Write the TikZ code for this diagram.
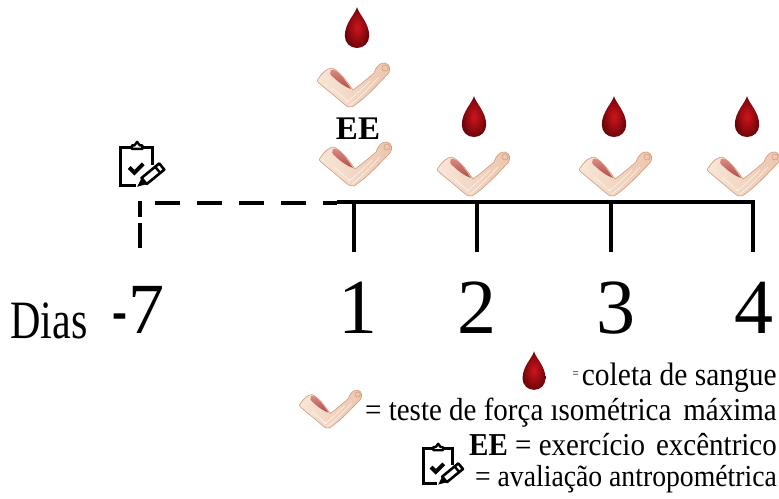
\documentclass[tikz,border=0pt]{standalone}
\usepackage{fontspec}
\setmainfont{Liberation Serif}
\definecolor{dropin}{HTML}{D0141C}
\definecolor{dropout}{HTML}{6E050A}
\definecolor{skinA}{HTML}{F8E6D8}
\definecolor{skinB}{HTML}{ECC5AC}
\definecolor{skinEdge}{HTML}{D29A7E}
\definecolor{musA}{HTML}{DC8F86}
\definecolor{musB}{HTML}{B04C48}
\tikzset{
  blooddrop/.pic={
    \shade[inner color=dropin, outer color=dropout]
      (0,-24) .. controls (2,-16) and (14,-6) .. (14,9)
      .. controls (14,17) and (8,23) .. (0,23)
      .. controls (-8,23) and (-14,17) .. (-14,9)
      .. controls (-14,-6) and (-2,-16) .. cycle;
  },
  flexarm/.pic={
    % skin outline of the flexed arm
    \shade[left color=skinA, right color=skinB, draw=skinEdge, line width=0.6pt]
      (-36,-7) .. controls (-32,-13) and (-27,-18) .. (-22,-18)
      .. controls (-15,-15) and (-7,-5) .. (-1,4)
      .. controls (6,-1) and (13,-7) .. (20,-13)
      .. controls (22,-19) and (26,-24) .. (31,-23)
      .. controls (36,-22) and (37,-16) .. (34,-12)
      .. controls (24,-2) and (12,12) .. (-2,21)
      .. controls (-5,22) and (-8,20) .. (-10,18)
      .. controls (-18,11) and (-28,3) .. (-35,-3)
      .. controls (-37,-4) and (-37,-6) .. cycle;
    % biceps
    \shade[top color=musA, bottom color=musB]
      (-23,-16) .. controls (-17,-18) and (-9,-6) .. (-3,3)
      .. controls (-9,1) and (-16,-4) .. (-21,-9)
      .. controls (-24,-11) and (-25,-14) .. cycle;
    % tendons and elbow shading
    \draw[white, line width=0.5pt, opacity=0.85]
      (-7,16) .. controls (-2,12) and (6,5) .. (16,-5)
      (-4,19) .. controls (4,13) and (12,5) .. (24,-8)
      (-22,2) .. controls (-16,7) and (-11,11) .. (-6,16);
    \draw[skinEdge, line width=0.5pt] (31,-18) circle (3);
  },
  clipboardicon/.pic={
    \draw[line width=3pt, line join=miter, line cap=butt]
      (-7,-18) -- (-20,-18) -- (-20,25) -- (-2,25);
    \draw[line width=3pt, line join=miter, line cap=butt]
      (5,-18) -- (17,-18) -- (17,2);
    \draw[line width=2.4pt, line join=round]
      (-7,-16) -- (-7,-20) -- (-4,-20) -- (-1,-24) -- (2,-20) -- (5,-20) -- (5,-16) -- cycle;
    \draw[line width=4pt, line cap=butt, line join=miter]
      (-10,5) -- (-4,11) -- (6,1);
    % pencil
    \draw[line width=2.6pt, line join=round, fill=white]
      (29.9,7.5) -- (24.1,0.5) -- (4,17) -- (9.8,24) -- cycle;
    \draw[line width=2.4pt] (25.3,11.3) -- (19.5,4.3);
    \fill (4,17) -- (9.8,24) -- (-1,27) -- cycle;
  }
}
\newcommand{\tallerline}[1]{\scalebox{1}[1.1]{#1}}
\begin{document}
\begin{tikzpicture}[x=1pt, y=-1pt,
  axis/.style={line width=4pt, line cap=butt, line join=miter},
  dashaxis/.style={axis, dash pattern=on 25pt off 17pt},
  daynum/.style={font=\fontsize{78}{80}\selectfont, anchor=base, inner sep=0pt},
  legendtxt/.style={font=\fontsize{29}{32}\selectfont, anchor=base east, inner sep=0pt}]
\useasboundingbox (0,0) rectangle (779,498);

% timeline
\coordinate (pre) at (140,248);
\coordinate (preTop) at (140,201);
\coordinate (dashStart) at (155,203);
\coordinate (solidStart) at (337,202);
\coordinate (day1) at (354,202);
\coordinate (day2) at (477,202);
\coordinate (day3) at (611,202);
\coordinate (day4) at (753,202);
\coordinate (tick1) at (354,252);
\coordinate (tick2) at (477,252);
\coordinate (tick3) at (611,252);
\coordinate (tick4) at (753,252);

\draw[axis] (preTop) -- (140,217);
\draw[axis] (140,223) -- (pre);
\draw[dashaxis] (dashStart) -- (solidStart |- dashStart);
\draw[axis] (solidStart) -- (day4) -- (tick4);
\draw[axis] (day1) -- (tick1);
\draw[axis] (day2) -- (tick2);
\draw[axis] (day3) -- (tick3);

% day labels
\node[anchor=base west, inner sep=0pt, font=\fontsize{54}{56}\selectfont] (dias) at (10,338) {\scalebox{0.78}[1]{Dias}};
\node[anchor=base east, inner sep=0pt, font=\fontsize{72}{74}\selectfont] (n7) at (165,333) {\scalebox{0.62}[1]{-}\hspace{1pt}7};
\node[daynum] (n1) at (358,333) {1};
\node[daynum] (n2) at (477,333) {2};
\node[daynum] (n3) at (616,333) {3};
\node[daynum] (n4) at (754,333) {4};

% events above the timeline
\pic[scale=0.88] (clipA) at (138,163) {clipboardicon};
\pic[scale=0.87] (dropA) at (357,28) {blooddrop};
\pic (armA) at (354,86) {flexarm};
\node[anchor=base, inner sep=0pt, font=\fontsize{33}{35}\selectfont\bfseries] (ee) at (358,139) {EE};
\pic (armB) at (356,165) {flexarm};
\pic[scale=0.87] (dropB) at (474,117) {blooddrop};
\pic (armC) at (474,175) {flexarm};
\pic[scale=0.87] (dropC) at (614,117) {blooddrop};
\pic (armD) at (616,175) {flexarm};
\pic[scale=0.87] (dropD) at (747,117) {blooddrop};
\pic (armE) at (744,175) {flexarm};

% legend
\pic[scale=0.82] (legDrop) at (534,371) {blooddrop};
\node[legendtxt, font=\fontsize{29.5}{32}\selectfont] (leg1) at (777,385)
  {\tallerline{\raisebox{7pt}{\fontsize{11}{11}\selectfont =}\hspace{3pt}coleta de sangue}};
\pic[scale=0.86] (legArm) at (331,410) {flexarm};
\node[legendtxt] (leg2) at (777,420) {\tallerline{= teste de força ısométrica\hspace{12pt}máxima}};
\node[legendtxt] (leg3) at (777,455) {\tallerline{\textbf{EE} = exercício\hspace{11pt}excêntrico}};
\pic[scale=0.8] (legClip) at (439,463) {clipboardicon};
\node[legendtxt, font=\fontsize{27.7}{31}\selectfont] (leg4) at (777,486) {\tallerline{= avaliação antropométrica}};
\end{tikzpicture}
\end{document}
